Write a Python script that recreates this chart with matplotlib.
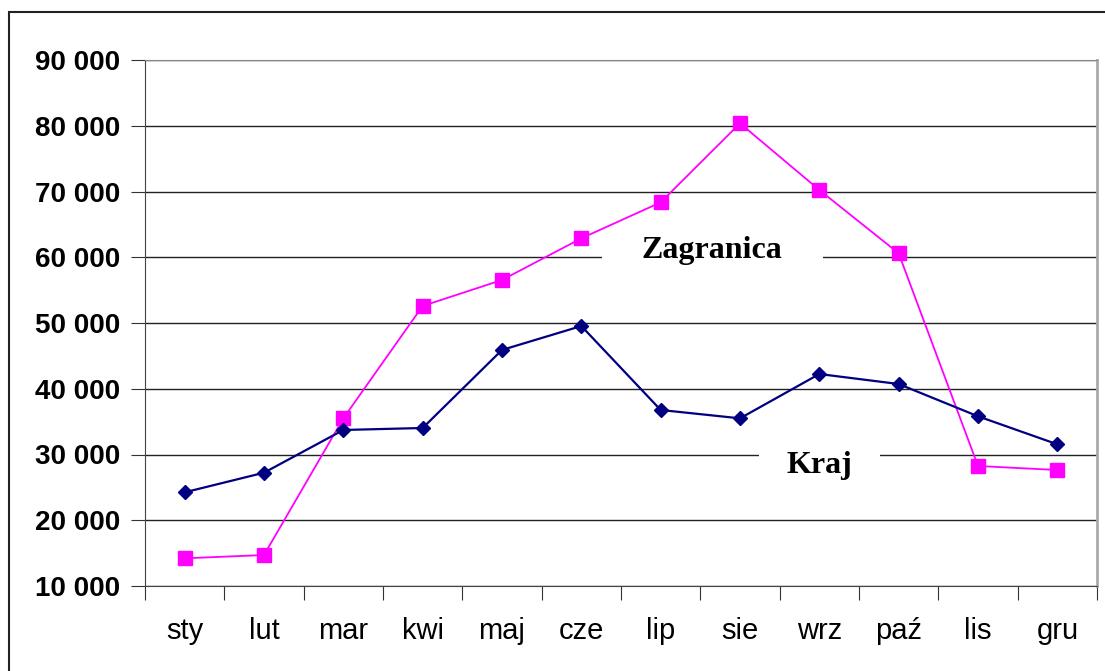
import matplotlib.pyplot as plt
from matplotlib.patches import Rectangle
from matplotlib.ticker import FuncFormatter

months = ["sty", "lut", "mar", "kwi", "maj", "cze", "lip", "sie", "wrz", "paź", "lis", "gru"]
kraj = [24250, 27230, 33730, 34030, 45900, 49540, 36770, 35500, 42240, 40720, 35810, 31550]
zagranica = [14210, 14710, 35500, 52590, 56540, 62880, 68350, 80370, 70230, 60600, 28250, 27640]

fig = plt.figure(figsize=(11.05, 6.71), dpi=100)
ax = fig.add_axes([145/1105, 85/671, (1097-145)/1105, (586-60)/671])

x = list(range(len(months)))
ax.plot(x, kraj, color="#000080", lw=1.6, marker="D", ms=7.5, zorder=4)
ax.plot(x, zagranica, color="#FF00FF", lw=1.3, marker="s", ms=9.5, zorder=3)

ax.set_xlim(-0.5, 11.5)
ax.set_ylim(10000, 90000)
ax.set_yticks(range(10000, 90001, 10000))
ax.yaxis.set_major_formatter(FuncFormatter(lambda v, p: f"{int(v):,}".replace(",", " ")))
ax.grid(axis="y", color="#222222", lw=1.0, zorder=0)
ax.set_axisbelow(True)

ax.set_xticks([i - 0.5 for i in range(13)])
ax.set_xticklabels([])
ax.set_xticks(x, minor=True)
ax.set_xticklabels(months, minor=True, fontsize=21, family="Liberation Sans")
ax.tick_params(axis="x", which="major", direction="out", length=10, color="#333333")
ax.tick_params(axis="x", which="minor", length=0, pad=22)
ax.tick_params(axis="y", direction="out", length=10, color="#333333", pad=8)
for lab in ax.get_yticklabels():
    lab.set_fontsize(20)
    lab.set_fontweight("bold")
    lab.set_family("Liberation Sans")

ax.spines["top"].set_color("#888888")
ax.spines["right"].set_color("#aaaaaa")
ax.spines["right"].set_linewidth(2)
ax.spines["left"].set_color("#444444")
ax.spines["bottom"].set_color("#444444")

ax.text(6.65, 61000, "Zagranica", ha="center", va="center", fontsize=23, fontweight="bold",
        family="Liberation Serif", zorder=2,
        bbox=dict(facecolor="white", edgecolor="none", pad=29))
ax.text(8.0, 28300, "Kraj", ha="center", va="center", fontsize=23, fontweight="bold",
        family="Liberation Serif", zorder=2,
        bbox=dict(facecolor="white", edgecolor="none", pad=20))

fig.patches.append(Rectangle((9/1105, -0.1), 1.2, 1 - 12/671 + 0.1, transform=fig.transFigure,
                             fill=False, edgecolor="#222222", lw=1.5))

fig.savefig("out.png", dpi=100)
